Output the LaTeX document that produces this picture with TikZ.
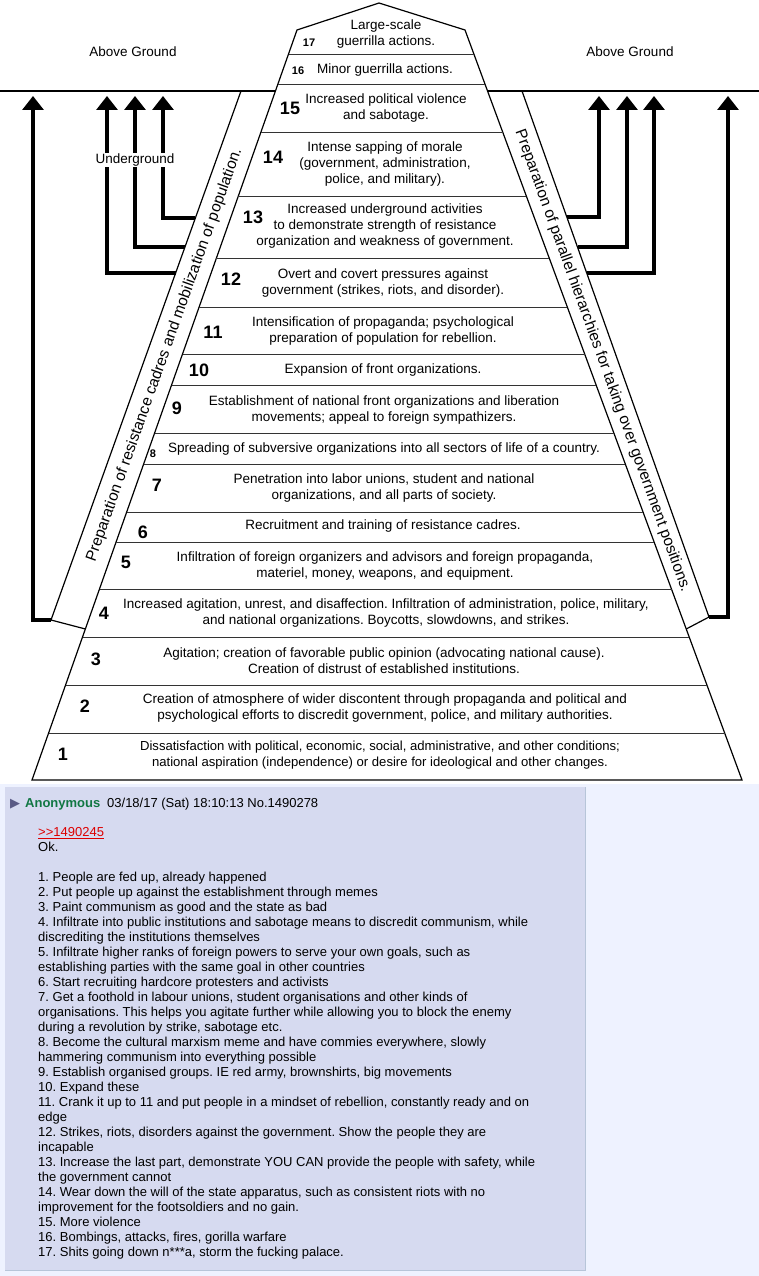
\documentclass[tikz,border=0pt]{standalone}
\usepackage{fontspec}
\setmainfont{Liberation Sans}
\newfontfamily\symbolfont{DejaVu Sans}
\usetikzlibrary{arrows.meta}
\frenchspacing

\definecolor{pagebg}{HTML}{EEF2FF}
\definecolor{postbg}{HTML}{D6DAF0}
\definecolor{postborder}{HTML}{B7C5D9}
\definecolor{namegreen}{HTML}{117743}
\definecolor{quotered}{HTML}{DD0000}
\definecolor{iconblue}{HTML}{5A5A85}

\tikzset{
    rowtext/.style={align=center, inner sep=0pt, font=\fontsize{13.5}{16}\selectfont},
    stagenum/.style={inner sep=0pt, font=\bfseries\fontsize{18}{18}\selectfont},
    smallnum/.style={inner sep=0pt, font=\bfseries\fontsize{11}{11}\selectfont},
    striplabel/.style={inner sep=0pt, font=\fontsize{15.5}{18}\selectfont},
    levellabel/.style={inner sep=1pt, font=\fontsize{13.5}{15}\selectfont},
    uparrow/.style={line width=3.2pt, -{Triangle[width=21pt,length=14pt]}},
    edge/.style={line width=1.2pt},
    rowline/.style={line width=0.9pt, black!80}
}

\begin{document}
\begin{tikzpicture}[x=1pt, y=-1pt]
\useasboundingbox (0,0) rectangle (759,1276);

% Backgrounds
\fill[white] (0,0) rectangle (759,784);
\fill[pagebg] (0,784) rectangle (759,1276);

% Ground line
\draw[edge] (0,91) -- (275.4,91);
\draw[edge] (487.5,91) -- (759,91);
\node[levellabel] (aboveleft) at (133,52) {Above Ground};
\node[levellabel] (aboveright) at (630,52) {Above Ground};

% Side strips
\draw[edge] (241,91) -- (51,620) -- (85.4,629);
\draw[edge] (522,91) -- (709,617) -- (686.2,629);
\node[striplabel, rotate=70.4] (prepleft) at (164.5,355)
    {Preparation of resistance cadres and mobilization of population.};
\node[striplabel, rotate=-70.1] (prepright) at (602.5,361)
    {Preparation of parallel hierarchies for taking over government positions.};

% Arrows, left
\coordinate (lfoot1) at (51,620);
\coordinate (lfoot2) at (175.6,273);
\coordinate (lfoot3) at (185,247);
\coordinate (lfoot4) at (195.4,218);
\draw[uparrow] (lfoot1) -- (33,620) -- (33,96);
\draw[uparrow] (lfoot2) -- (107,273) -- (107,96);
\draw[uparrow] (lfoot3) -- (135,247) -- (135,96);
\draw[uparrow] (lfoot4) -- (163,218) -- (163,96);
\node[levellabel, fill=white] (under) at (135,160) {Underground};

% Arrows, right
\coordinate (rfoot1) at (566.8,217);
\coordinate (rfoot2) at (577.5,247);
\coordinate (rfoot3) at (586.7,273);
\coordinate (rfoot4) at (709,617);
\draw[uparrow] (rfoot1) -- (599,217) -- (599,96);
\draw[uparrow] (rfoot2) -- (627,247) -- (627,96);
\draw[uparrow] (rfoot3) -- (654,273) -- (654,96);
\draw[uparrow] (rfoot4) -- (728,617) -- (728,96);

% Pyramid outline
\draw[edge, fill=white] (32,780) -- (297,30) -- (379,3) -- (465,30) -- (742,780) -- cycle;

% Rows
\draw[rowline] (288.5,54) -- (473.9,54);
\draw[rowline] (277.9,84) -- (484.9,84);
\draw[rowline] (261.0,132) -- (502.7,132);
\draw[rowline] (238.3,196) -- (526.3,196);
\draw[rowline] (216.4,258) -- (549.2,258);
\draw[rowline] (199.1,307) -- (567.3,307);
\draw[rowline] (182.5,354) -- (584.7,354);
\draw[rowline] (171.6,385) -- (596.1,385);
\draw[rowline] (154.6,433) -- (613.8,433);
\draw[rowline] (143.7,464) -- (625.3,464);
\draw[rowline] (126.7,512) -- (643.0,512);
\draw[rowline] (116.1,542) -- (654.1,542);
\draw[rowline] (99.5,589) -- (671.5,589);
\draw[rowline] (82.5,637) -- (689.2,637);
\draw[rowline] (65.6,685) -- (706.9,685);
\draw[rowline] (48.6,733) -- (724.6,733);

% Stage texts
\node[rowtext] (s17) at (386,34) {Large-scale\\guerrilla actions.};
\node[rowtext] (s16) at (385,70) {Minor guerrilla actions.};
\node[rowtext] (s15) at (386,108) {Increased political violence\\and sabotage.};
\node[rowtext] (s14) at (385,164) {Intense sapping of morale\\(government, administration,\\police, and military).};
\node[rowtext] (s13) at (385,226) {Increased underground activities\\to demonstrate strength of resistance\\organization and weakness of government.};
\node[rowtext] (s12) at (383,283) {Overt and covert pressures against\\government (strikes, riots, and disorder).};
\node[rowtext] (s11) at (383,331) {Intensification of propaganda; psychological\\preparation of population for rebellion.};
\node[rowtext] (s10) at (383,370) {Expansion of front organizations.};
\node[rowtext] (s9) at (384,410) {Establishment of national front organizations and liberation\\movements; appeal to foreign sympathizers.};
\node[rowtext] (s8) at (384,449) {Spreading of subversive organizations into all sectors of life of a country.};
\node[rowtext] (s7) at (384,488) {Penetration into labor unions, student and national\\organizations, and all parts of society.};
\node[rowtext] (s6) at (383,526) {Recruitment and training of resistance cadres.};
\node[rowtext] (s5) at (385,566) {Infiltration of foreign organizers and advisors and foreign propaganda,\\materiel, money, weapons, and equipment.};
\node[rowtext] (s4) at (386,613) {Increased agitation, unrest, and disaffection. Infiltration of administration, police, military,\\and national organizations. Boycotts, slowdowns, and strikes.};
\node[rowtext] (s3) at (384,661) {Agitation; creation of favorable public opinion (advocating national cause).\\Creation of distrust of established institutions.};
\node[rowtext] (s2) at (385,708) {Creation of atmosphere of wider discontent through propaganda and political and\\psychological efforts to discredit government, police, and military authorities.};
\node[rowtext, font=\fontsize{13.1}{16}\selectfont] (s1) at (380,755) {Dissatisfaction with political, economic, social, administrative, and other conditions;\\national aspiration (independence) or desire for ideological and other changes.};

% Stage numbers
\node[smallnum] (n17) at (309,43) {17};
\node[smallnum] (n16) at (298,71) {16};
\node[stagenum] (n15) at (290,108) {15};
\node[stagenum] (n14) at (273,157) {14};
\node[stagenum] (n13) at (253,217) {13};
\node[stagenum] (n12) at (231,279) {12};
\node[stagenum] (n11) at (213,332) {11};
\node[stagenum] (n10) at (199,370) {10};
\node[stagenum] (n9) at (177,408) {9};
\node[smallnum] (n8) at (153,454) {8};
\node[stagenum] (n7) at (157,485) {7};
\node[stagenum] (n6) at (143,532) {6};
\node[stagenum] (n5) at (126,562) {5};
\node[stagenum] (n4) at (104,613) {4};
\node[stagenum] (n3) at (96,659) {3};
\node[stagenum] (n2) at (85,706) {2};
\node[stagenum] (n1) at (63,754) {1};

% Post
\fill[postbg] (5,787) rectangle (585,1270);
\draw[postborder, line width=1pt] (585,787) -- (585,1270) -- (5,1270);
\node[anchor=base west, inner sep=0pt, text=iconblue, font=\symbolfont\fontsize{13}{13}\selectfont] (icon) at (10,807.5) {▶};
\node[anchor=base west, inner sep=0pt, text=namegreen, font=\bfseries\fontsize{13}{15}\selectfont] (name) at (25,807.5) {Anonymous};
\node[anchor=base west, inner sep=0pt, font=\fontsize{13}{15}\selectfont] (date) at (107,807.5) {03/18/17 (Sat) 18:10:13 No.1490278};
\node[anchor=north west, inner sep=0pt, align=left, font=\fontsize{13}{15}\selectfont] (body) at (38,827) {%
{\color{quotered}\underline{\symbol{62}\symbol{62}1490245}}\\
Ok.\\[15pt]
1. People are fed up, already happened\\
2. Put people up against the establishment through memes\\
3. Paint communism as good and the state as bad\\
4. Infiltrate into public institutions and sabotage means to discredit communism, while\\
discrediting the institutions themselves\\
5. Infiltrate higher ranks of foreign powers to serve your own goals, such as\\
establishing parties with the same goal in other countries\\
6. Start recruiting hardcore protesters and activists\\
7. Get a foothold in labour unions, student organisations and other kinds of\\
organisations. This helps you agitate further while allowing you to block the enemy\\
during a revolution by strike, sabotage etc.\\
8. Become the cultural marxism meme and have commies everywhere, slowly\\
hammering communism into everything possible\\
9. Establish organised groups. IE red army, brownshirts, big movements\\
10. Expand these\\
11. Crank it up to 11 and put people in a mindset of rebellion, constantly ready and on\\
edge\\
12. Strikes, riots, disorders against the government. Show the people they are\\
incapable\\
13. Increase the last part, demonstrate YOU CAN provide the people with safety, while\\
the government cannot\\
14. Wear down the will of the state apparatus, such as consistent riots with no\\
improvement for the footsoldiers and no gain.\\
15. More violence\\
16. Bombings, attacks, fires, gorilla warfare\\
17. Shits going down n***a, storm the fucking palace.};

\end{tikzpicture}
\end{document}
